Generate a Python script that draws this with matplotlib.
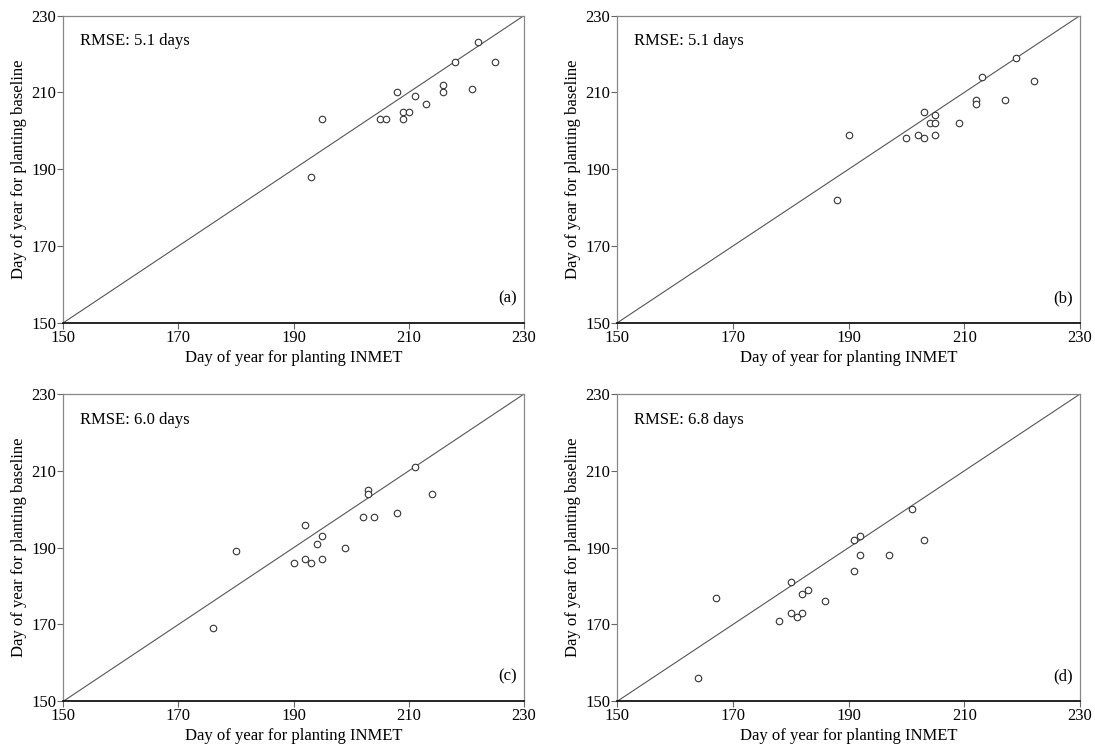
import numpy as np
import matplotlib.pyplot as plt

plt.rcParams['font.family'] = ['Liberation Serif', 'DejaVu Serif']

# panel (a)
xa = [222, 225, 218, 216, 216, 221, 208, 211, 213, 209, 210, 209, 205, 206, 195, 193]
ya = [223, 218, 218, 212, 210, 211, 210, 209, 207, 205, 205, 203, 203, 203, 203, 188]
# panel (b)
xb = [219, 213, 222, 212, 212, 217, 203, 205, 204, 205, 209, 202, 203, 200, 205, 190, 188]
yb = [219, 214, 213, 208, 207, 208, 205, 204, 202, 202, 202, 199, 198, 198, 199, 199, 182]
# panel (c)
xc = [211, 203, 203, 214, 202, 204, 208, 192, 195, 194, 199, 180, 190, 192, 193, 195, 176]
yc = [211, 205, 204, 204, 198, 198, 199, 196, 193, 191, 190, 189, 186, 187, 186, 187, 169]
# panel (d)
xd = [201, 203, 191, 192, 192, 197, 191, 180, 182, 183, 186, 180, 182, 181, 178, 167, 164]
yd = [200, 192, 192, 193, 188, 188, 184, 181, 178, 179, 176, 173, 173, 172, 171, 177, 156]

rmse = ["RMSE: 5.1 days", "RMSE: 5.1 days", "RMSE: 6.0 days", "RMSE: 6.8 days"]
tags = ["(a)", "(b)", "(c)", "(d)"]
ticks = [150, 170, 190, 210, 230]

fig = plt.figure(figsize=(10.95, 7.53), dpi=100)
# axes boxes in figure fractions
boxes = [[0.0578, 0.5713, 0.4207, 0.408],
         [0.5637, 0.5713, 0.4226, 0.408],
         [0.0578, 0.0687, 0.4207, 0.408],
         [0.5637, 0.0687, 0.4226, 0.408]]
data = [(xa, ya), (xb, yb), (xc, yc), (xd, yd)]

for k in range(4):
    ax = fig.add_axes(boxes[k])
    x, y = data[k]
    ax.plot([150, 230], [150, 230], color="#555555", lw=0.8) # 1:1 line
    ax.scatter(x, y, s=22, facecolors="white", edgecolors="#333333", linewidths=0.8, zorder=3)
    ax.set_xlim(150, 230)
    ax.set_ylim(150, 230)
    ax.set_xticks(ticks)
    ax.set_yticks(ticks)
    ax.tick_params(direction="out", length=4, width=0.8, labelsize=12, color="#666666", pad=1)
    for s in ["top", "right", "left"]:
        ax.spines[s].set_color("#888888")
        ax.spines[s].set_linewidth(0.9)
    ax.spines["bottom"].set_color("black")
    ax.spines["bottom"].set_linewidth(1.2)
    ax.set_xlabel("Day of year for planting INMET", fontsize=12, labelpad=3)
    ax.set_ylabel("Day of year for planting baseline", fontsize=12, labelpad=3)
    ax.text(0.037, 0.917, rmse[k], transform=ax.transAxes, fontsize=12, va="center")
    ax.text(0.985, 0.08, tags[k], transform=ax.transAxes, fontsize=12, ha="right", va="center")

plt.savefig("out.png", dpi=100)
